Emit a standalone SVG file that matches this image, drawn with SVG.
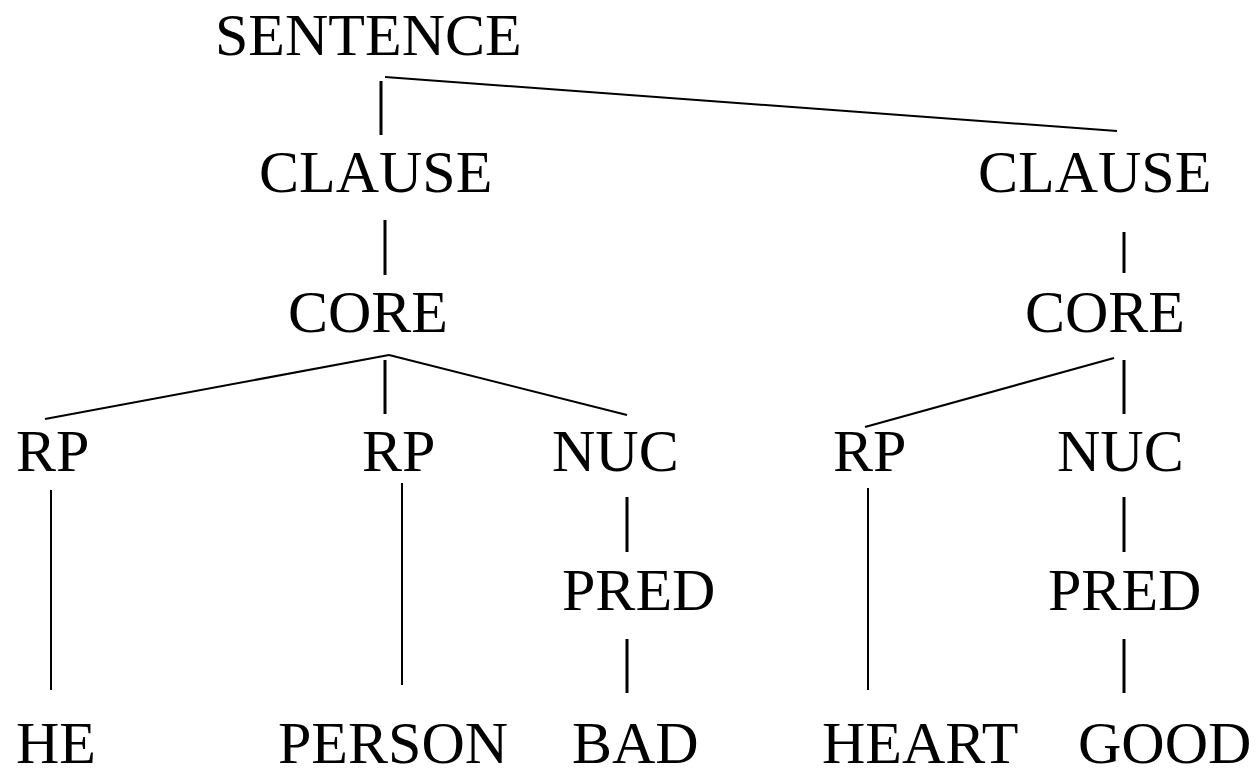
<svg xmlns="http://www.w3.org/2000/svg" width="1258" height="776" viewBox="0 0 1258 776">
<style>
text{font-family:"Liberation Serif","Times New Roman",serif;font-size:60px;fill:#000}
.d{stroke:#000;stroke-width:2;fill:none}
.v{stroke:#000;stroke-width:3;fill:none}
.t{stroke:#000;stroke-width:2;fill:none}
</style>
<rect width="1258" height="776" fill="#fff"/>
<g id="connectors">
<line class="d" x1="385" y1="77" x2="1117" y2="131"/>
<line class="v" x1="381" y1="81" x2="381" y2="135"/>
<line class="v" x1="385" y1="220" x2="385" y2="275"/>
<line class="v" x1="1124" y1="232" x2="1124" y2="273"/>
<line class="d" x1="389" y1="355" x2="45" y2="419"/>
<line class="d" x1="389" y1="355" x2="627" y2="415"/>
<line class="v" x1="385" y1="360" x2="385" y2="414"/>
<line class="d" x1="1114" y1="358" x2="865" y2="427"/>
<line class="v" x1="1124" y1="360" x2="1124" y2="414"/>
<line class="t" x1="51" y1="490" x2="51" y2="690"/>
<line class="t" x1="402" y1="483" x2="402" y2="685"/>
<line class="t" x1="868" y1="488" x2="868" y2="690"/>
<line class="v" x1="627" y1="497" x2="627" y2="552"/>
<line class="v" x1="627" y1="639" x2="627" y2="693"/>
<line class="v" x1="1124" y1="497" x2="1124" y2="552"/>
<line class="v" x1="1124" y1="639" x2="1124" y2="693"/>
</g>
<g id="sentence"><text x="215" y="55">SENTENCE</text></g>
<g id="clause1"><text x="259" y="192">CLAUSE</text></g>
<g id="clause2"><text x="978" y="192">CLAUSE</text></g>
<g id="core1"><text x="288" y="332">CORE</text></g>
<g id="core2"><text x="1025" y="332">CORE</text></g>
<g id="rp1"><text x="16" y="471">RP</text></g>
<g id="rp2"><text x="362" y="471">RP</text></g>
<g id="nuc1"><text x="552" y="471">NUC</text></g>
<g id="rp3"><text x="833" y="471">RP</text></g>
<g id="nuc2"><text x="1057" y="471">NUC</text></g>
<g id="pred1"><text x="562" y="610">PRED</text></g>
<g id="pred2"><text x="1048" y="610">PRED</text></g>
<g id="he"><text x="16" y="763">HE</text></g>
<g id="person"><text x="278" y="763">PERSON</text></g>
<g id="bad"><text x="572" y="763">BAD</text></g>
<g id="heart"><text x="822" y="763">HEART</text></g>
<g id="good"><text x="1078" y="763">GOOD</text></g>
</svg>
